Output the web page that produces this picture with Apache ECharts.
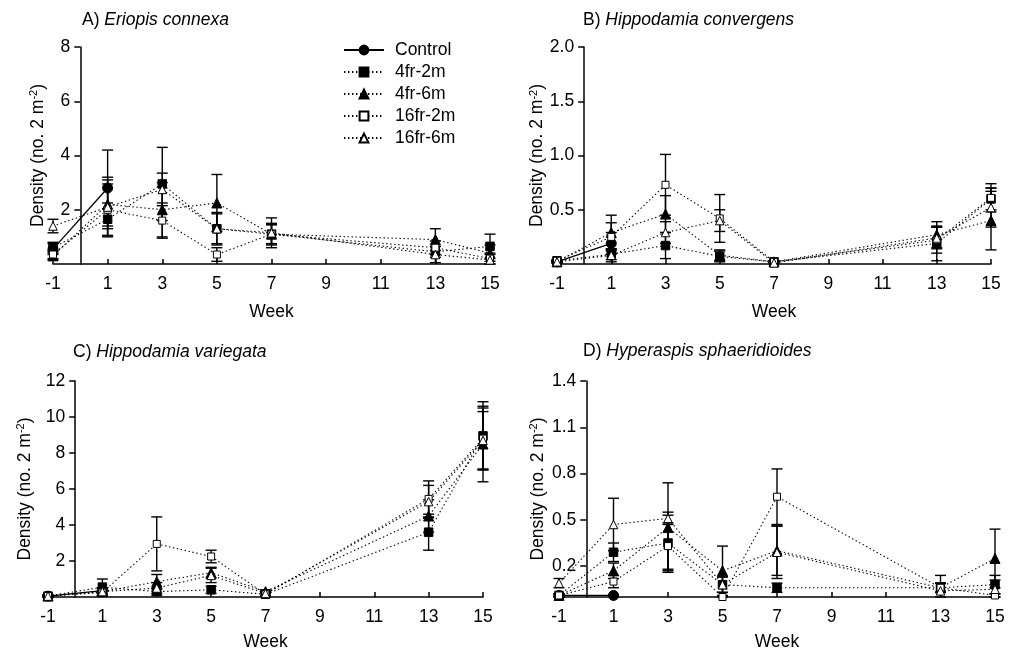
<!DOCTYPE html>
<html>
<head>
<meta charset="utf-8">
<script src="https://cdn.jsdelivr.net/npm/echarts@6/dist/echarts.min.js"></script>
<style>
  html, body { margin: 0; padding: 0; background: #fff; }
  #ChartMain { width: 1014px; height: 650px; }
</style>
</head>
<body>
<div id="ChartMain"></div>
<script>
// 采样周数
var weeks = [-1, 1, 3, 5, 7, 13, 15];
var weekTicks = [-1, 1, 3, 5, 7, 9, 11, 13, 15];
var seriesNames = ['Control', '4fr-2m', '4fr-6m', '16fr-2m', '16fr-6m'];
var panelLetters = ['A) ', 'B) ', 'C) ', 'D) '];
var speciesNames = ['Eriopis connexa', 'Hippodamia convergens', 'Hippodamia variegata', 'Hyperaspis sphaeridioides'];
var yMaxList = [8, 2, 12, 1.4];
var yTicksA = [2, 4, 6, 8];
var yTicksB = [0.5, 1.0, 1.5, 2.0];
var yTicksC = [2, 4, 6, 8, 10, 12];
var yTicksD = [0.2, 0.5, 0.8, 1.1, 1.4];

// 均值 (Control 只有 -1 和 1 周)
var meanA = [
    [0.55, 2.8],
    [0.6, 1.65, 2.95, 1.3, 1.1, 0.45, 0.65],
    [0.3, 2.2, 2.0, 2.25, 1.1, 0.9, 0.4],
    [0.35, 2.0, 1.6, 0.35, 1.1, 0.6, 0.2],
    [1.4, 2.1, 2.75, 1.3, 1.15, 0.35, 0.15]
];
var seA = [
    [0.2, 1.4],
    [0.2, 0.6, 1.35, 0.6, 0.35, 0.2, 0.45],
    [0.15, 0.9, 1.0, 1.05, 0.35, 0.4, 0.3],
    [0.15, 0.95, 0.65, 0.25, 0.4, 0.25, 0.2],
    [0.25, 1.1, 0.6, 0.55, 0.55, 0.3, 0.2]
];
var meanB = [
    [0.02, 0.19],
    [0.03, 0.09, 0.17, 0.07, 0.02, 0.19, 0.6],
    [0.02, 0.29, 0.46, 0.08, 0.02, 0.27, 0.4],
    [0.03, 0.25, 0.73, 0.42, 0.02, 0.22, 0.61],
    [0.02, 0.08, 0.29, 0.4, 0.01, 0.24, 0.52]
];
var seB = [
    [0.01, 0.1],
    [0.01, 0.05, 0.12, 0.05, 0.01, 0.16, 0.1],
    [0.01, 0.16, 0.17, 0.05, 0.01, 0.12, 0.27],
    [0.01, 0.13, 0.28, 0.22, 0.01, 0.12, 0.13],
    [0.01, 0.06, 0.1, 0.1, 0.01, 0.1, 0.18]
];
var meanC = [
    [0.05, 0.35],
    [0.05, 0.55, 0.3, 0.4, 0.15, 3.6, 8.95],
    [0.05, 0.3, 0.85, 1.35, 0.3, 4.5, 8.5],
    [0.05, 0.25, 2.95, 2.25, 0.15, 5.45, 8.8],
    [0.05, 0.3, 0.5, 1.2, 0.2, 5.3, 8.7]
];
var seC = [
    [0.05, 0.15],
    [0.05, 0.45, 0.2, 0.2, 0.1, 1.0, 1.9],
    [0.05, 0.2, 0.4, 0.3, 0.1, 0.9, 2.1],
    [0.05, 0.2, 1.5, 0.35, 0.1, 1.0, 1.7],
    [0.05, 0.2, 0.3, 0.4, 0.1, 0.9, 1.6]
];
var meanD = [
    [0.01, 0.01],
    [0.01, 0.29, 0.35, 0.08, 0.06, 0.06, 0.08],
    [0.01, 0.17, 0.45, 0.17, 0.3, 0.06, 0.25],
    [0.01, 0.1, 0.33, 0.0, 0.65, 0.06, 0.01],
    [0.09, 0.47, 0.51, 0.08, 0.29, 0.04, 0.05]
];
var seD = [
    [0.005, 0.005],
    [0.01, 0.06, 0.18, 0.05, 0.03, 0.03, 0.06],
    [0.01, 0.05, 0.29, 0.16, 0.16, 0.03, 0.19],
    [0.01, 0.04, 0.15, 0.005, 0.18, 0.03, 0.01],
    [0.03, 0.17, 0.04, 0.05, 0.17, 0.1, 0.06]
];

var allMeans = [meanA, meanB, meanC, meanD];
var allSE = [seA, seB, seC, seD];
var allYTicks = [yTicksA, yTicksB, yTicksC, yTicksD];

var FONT = 'Liberation Sans';
var FS = 17.5;

// 布局
var gridPos = [
    {left: 53, top: 47, width: 437, height: 217},
    {left: 557, top: 47, width: 434, height: 217},
    {left: 48, top: 381, width: 435, height: 216},
    {left: 559, top: 381, width: 436, height: 216}
];
var titlePos = [[82, 11], [583, 11], [73, 343], [583, 342]];
var yNameGap = [33, 37, 41, 39];
var xNameGap = [39, 39, 36, 36];

var markStyles = [
    {symbol: 'circle', size: 10, fill: '#000', dash: 'solid', width: 1.3},
    {symbol: 'rect', size: 8.5, fill: '#000', dash: [1.4, 2.6], width: 1.1},
    {symbol: 'triangle', size: 10, fill: '#000', dash: [1.4, 2.6], width: 1.1},
    {symbol: 'rect', size: 7, fill: '#fff', dash: [1.4, 2.6], width: 1.1},
    {symbol: 'triangle', size: 8.5, fill: '#fff', dash: [1.4, 2.6], width: 1.1}
];

function renderErr(params, api) {
    var x = api.value(0), lo = Math.max(0, api.value(1)), hi = api.value(2);
    var top = api.coord([x, hi]), bot = api.coord([x, lo]);
    var w = 5.5;
    var st = {stroke: '#000', lineWidth: 1.4};
    return {
        type: 'group',
        children: [
            {type: 'line', shape: {x1: top[0], y1: top[1], x2: bot[0], y2: bot[1]}, style: st},
            {type: 'line', shape: {x1: top[0] - w, y1: top[1], x2: top[0] + w, y2: top[1]}, style: st},
            {type: 'line', shape: {x1: bot[0] - w, y1: bot[1], x2: bot[0] + w, y2: bot[1]}, style: st}
        ]
    };
}

var grids = [], xAxes = [], yAxes = [], series = [], titles = [];
for (var p = 0; p < 4; p++) {
    var g = gridPos[p];
    grids.push({left: g.left, top: g.top, width: g.width, height: g.height,
        containLabel: false, outerBoundsMode: 'none'});
    titles.push({
        left: titlePos[p][0], top: titlePos[p][1], padding: 0,
        text: '{n|' + panelLetters[p] + '}{i|' + speciesNames[p] + '}',
        textStyle: {
            fontWeight: 'normal',
            rich: {
                n: {fontFamily: FONT, fontSize: FS, color: '#000', fontWeight: 'normal'},
                i: {fontFamily: FONT, fontSize: FS, color: '#000', fontStyle: 'italic', fontWeight: 'normal'}
            }
        }
    });
    xAxes.push({
        gridIndex: p, type: 'value', min: -1, max: 15,
        name: 'Week', nameLocation: 'middle', nameGap: xNameGap[p], nameMoveOverlap: false,
        nameTextStyle: {fontFamily: FONT, fontSize: FS, color: '#000'},
        axisLine: {onZero: false, lineStyle: {color: '#000', width: 1.5}},
        axisTick: {inside: true, length: 5, customValues: weekTicks, lineStyle: {color: '#000', width: 1.5}},
        axisLabel: {customValues: weekTicks, margin: 11, fontFamily: FONT, fontSize: FS, color: '#000'},
        splitLine: {show: false}
    });
    var dec = (p === 1 || p === 3);
    // y 轴放在第 0 周的位置
    yAxes.push({
        gridIndex: p, type: 'value', min: 0, max: yMaxList[p],
        offset: -g.width / 16,
        name: 'Density (no. 2 m{sup|-2})', nameLocation: 'middle', nameGap: yNameGap[p], nameMoveOverlap: false,
        nameTextStyle: {
            fontFamily: FONT, fontSize: FS, color: '#000',
            rich: {sup: {fontFamily: FONT, fontSize: 11, color: '#000', verticalAlign: 'top', padding: [0, 0, 8, 0]}}
        },
        axisLine: {onZero: false, lineStyle: {color: '#000', width: 1.5}},
        axisTick: {length: 6, customValues: allYTicks[p], lineStyle: {color: '#000', width: 1.5}},
        axisLabel: {
            customValues: allYTicks[p], margin: 10, fontFamily: FONT, fontSize: FS, color: '#000',
            formatter: (function (d) { return function (v) { return d ? v.toFixed(1) : String(v); }; })(dec)
        },
        splitLine: {show: false}
    });
    for (var s = 0; s < seriesNames.length; s++) {
        var m = allMeans[p][s], e = allSE[p][s];
        var pts = [], errs = [];
        for (var k = 0; k < m.length; k++) {
            pts.push([weeks[k], m[k]]);
            errs.push([weeks[k], m[k] - e[k], m[k] + e[k]]);
        }
        var ms = markStyles[s];
        series.push({
            type: 'custom', name: seriesNames[s] + ' SE', xAxisIndex: p, yAxisIndex: p, z: 1, silent: true,
            renderItem: renderErr, encode: {x: 0, y: [1, 2]}, data: errs
        });
        series.push({
            type: 'line', name: seriesNames[s], xAxisIndex: p, yAxisIndex: p, z: 3,
            symbol: ms.symbol, symbolSize: ms.size, showAllSymbol: true,
            itemStyle: {color: ms.fill, borderColor: '#000', borderWidth: 1},
            lineStyle: {color: '#000', width: ms.width, type: ms.dash},
            data: pts, animation: false
        });
    }
}

var chart = echarts.init(document.getElementById('ChartMain'));
chart.setOption({
    animation: false,
    backgroundColor: '#fff',
    title: titles,
    legend: {
        data: seriesNames, orient: 'vertical', left: 343, top: 41, padding: 0,
        itemWidth: 40, itemHeight: 11, itemGap: 4,
        textStyle: {fontFamily: FONT, fontSize: FS, color: '#000', padding: [0, 0, 0, 6]}
    },
    grid: grids,
    xAxis: xAxes,
    yAxis: yAxes,
    series: series
});
</script>
</body>
</html>
